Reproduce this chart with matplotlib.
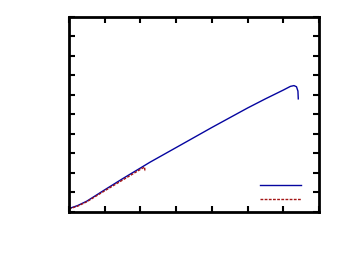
import matplotlib
matplotlib.use("Agg")
import matplotlib.pyplot as plt

# blue curve (full run)
x_blue = [0.0, 0.25, 0.5, 1.0, 1.5, 2.0, 2.27, 3.0, 4.0, 5.0, 5.5, 6.0, 6.2, 6.3, 6.37, 6.41, 6.42]
y_blue = [0.17, 0.33, 0.55, 1.13, 1.7, 2.25, 2.55, 3.3, 4.33, 5.33, 5.8, 6.25, 6.44, 6.48, 6.42, 6.2, 5.8]

# red dashed curve (short run)
x_red = [0.0, 0.25, 0.5, 1.0, 1.5, 2.0, 2.12, 2.13]
y_red = [0.15, 0.3, 0.52, 1.08, 1.63, 2.18, 2.3, 2.05]

fig = plt.figure(figsize=(3.46, 2.61), dpi=100)
ax = fig.add_axes([0.199, 0.188, 0.723, 0.747])

l1, = ax.plot(x_blue, y_blue, color='#0505a0', lw=1.0)
l2, = ax.plot(x_red, y_red, color='#a31515', lw=1.0, ls=(0, (2, 1)))

ax.set_xlim(0, 7)
ax.set_ylim(0, 10)
ax.set_xticks(range(0, 8))
ax.set_yticks(range(0, 11))
ax.tick_params(direction='in', length=4, width=1.5, top=True, right=True,
               labelbottom=False, labelleft=False)
for s in ax.spines.values():
    s.set_linewidth(2)

ax.legend([l1, l2], ['', ''], loc='lower right', bbox_to_anchor=(0.927, 0.035),
          frameon=False, handlelength=3.7, handletextpad=0.0, labelspacing=0.35,
          borderaxespad=0.0, borderpad=0.0, fontsize=8)

plt.savefig('out.png', dpi=100)
